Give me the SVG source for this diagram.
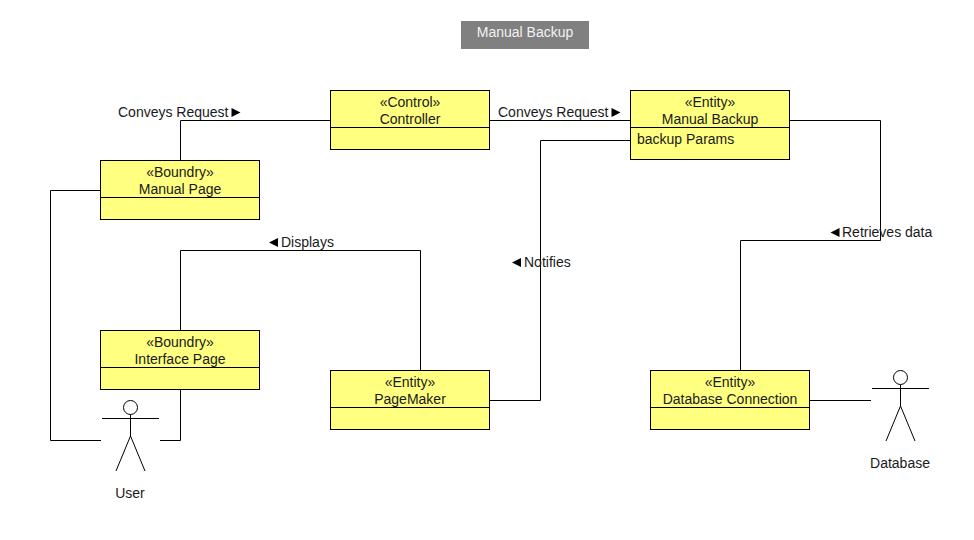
<svg xmlns="http://www.w3.org/2000/svg" width="974" height="540" viewBox="0 0 974 540">
<style>
text{font-family:"Liberation Sans",Arial,sans-serif;font-size:14px;fill:#1a1a1a}
.c{text-anchor:middle}
.box{fill:#ffff80;stroke:#000;stroke-width:1}
.ln{fill:none;stroke:#000;stroke-width:1}
.tri{fill:#000;stroke:none}
</style>
<defs>
<path id="tr" class="tri" d="M0 -4.500L9 0L0 4.500Z"/>
<path id="tl" class="tri" d="M9 -4.500L0 0L9 4.500Z"/>
<g id="actor"><circle class="ln" cx="0" cy="-23.500" r="7"/><path class="ln" d="M0 -16.500V5M-28.500 -12.500H28.500M0 5L-14.500 40M0 5L14.500 40"/></g>
</defs>
<rect width="974" height="540" fill="#fff"/>
<g id="title"><rect x="461" y="21" width="128" height="28" fill="#808080"/><text class="c" x="525" y="37" style="fill:#f2f2f2">Manual Backup</text></g>
<g id="connectors">
<path class="ln" d="M180.500 160V120.500H330"/>
<path class="ln" d="M490 120.500H630"/>
<path class="ln" d="M100 190.500H50.500V440.500H101"/>
<path class="ln" d="M160 440.500H180.500V390"/>
<path class="ln" d="M180.500 330V250.500H420.500V370"/>
<path class="ln" d="M490 400.500H540.500V140.500H630"/>
<path class="ln" d="M790 120.500H880.500V240.500H740.500V370"/>
<path class="ln" d="M810 400.500H871"/>
</g>
<g id="connector-labels">
<text x="118" y="117">Conveys Request</text><use href="#tr" x="231.500" y="112.500"/>
<text x="498" y="117">Conveys Request</text><use href="#tr" x="611.500" y="112.500"/>
<use href="#tl" x="269" y="242.500"/><text x="281" y="247">Displays</text>
<use href="#tl" x="512" y="262.500"/><text x="524" y="267">Notifies</text>
<use href="#tl" x="830.500" y="232.500"/><text x="842" y="237">Retrieves data</text>
</g>
<g id="controller"><rect class="box" x="330.500" y="90.500" width="159" height="59"/><path class="ln" d="M330.500 127.500H489.500"/><text class="c" x="410" y="107">«Control»</text><text class="c" x="410" y="124">Controller</text></g>
<g id="manual-backup"><rect class="box" x="630.500" y="90.500" width="159" height="69"/><path class="ln" d="M630.500 127.500H789.500"/><text class="c" x="710" y="107">«Entity»</text><text class="c" x="710" y="124">Manual Backup</text><text x="637" y="144">backup Params</text></g>
<g id="manual-page"><rect class="box" x="100.500" y="160.500" width="159" height="59"/><path class="ln" d="M100.500 197.500H259.500"/><text class="c" x="180" y="177">«Boundry»</text><text class="c" x="180" y="194">Manual Page</text></g>
<g id="interface-page"><rect class="box" x="100.500" y="330.500" width="159" height="59"/><path class="ln" d="M100.500 367.500H259.500"/><text class="c" x="180" y="347">«Boundry»</text><text class="c" x="180" y="364">Interface Page</text></g>
<g id="pagemaker"><rect class="box" x="330.500" y="370.500" width="159" height="59"/><path class="ln" d="M330.500 407.500H489.500"/><text class="c" x="410" y="387">«Entity»</text><text class="c" x="410" y="404">PageMaker</text></g>
<g id="database-connection"><rect class="box" x="650.500" y="370.500" width="159" height="59"/><path class="ln" d="M650.500 407.500H809.500"/><text class="c" x="730" y="387">«Entity»</text><text class="c" x="730" y="404">Database Connection</text></g>
<g id="user"><use href="#actor" x="130.500" y="431"/><text class="c" x="130" y="498">User</text></g>
<g id="database"><use href="#actor" x="900.500" y="401"/><text class="c" x="900" y="468">Database</text></g>
</svg>
